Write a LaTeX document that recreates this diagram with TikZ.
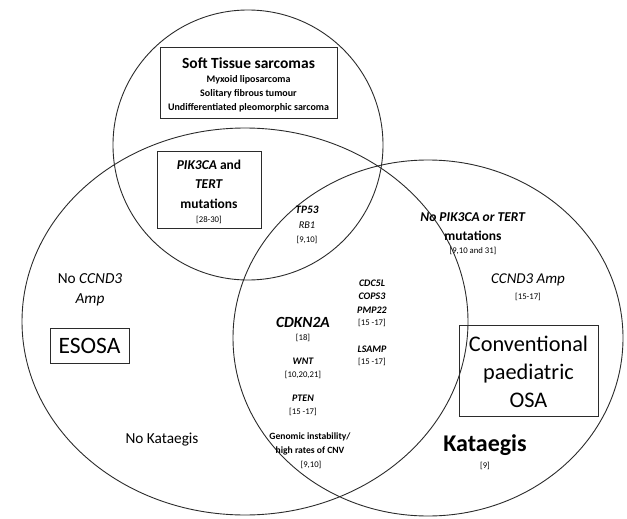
\documentclass[tikz,border=0pt]{standalone}
\usepackage{fontspec}
\setmainfont{Carlito}
\usetikzlibrary{positioning}
\definecolor{vennline}{HTML}{2B2B2B}

\begin{document}
\begin{tikzpicture}[x=1pt, y=-1pt,
    venn/.style={draw=vennline, line width=0.9pt},
    labelbox/.style={draw=vennline, line width=0.8pt, align=center, inner sep=0pt},
    ref/.style={font=\fontsize{8.7}{10}\selectfont, inner sep=0pt},
    gene/.style={font=\fontsize{10}{12}\selectfont\bfseries\itshape, inner sep=0pt},
    plain/.style={inner sep=0pt, align=center}]
    \useasboundingbox (0,0) rectangle (627,519);

    % the three sets
    \draw[venn] (248,145) circle (135pt);
    \draw[venn] (245,321.5) ellipse (223pt and 193.5pt);
    \draw[venn] (428,338) ellipse (195pt and 178pt);

    % soft tissue set
    \node[labelbox, minimum width=177pt, minimum height=71pt] (stsbox) at (248.5,82.5) {};
    \node[plain, font=\fontsize{15.5}{17}\selectfont\bfseries] (sts) at (248.5,63) {Soft Tissue sarcomas};
    \node[plain, font=\fontsize{10}{14}\selectfont\bfseries] (stslist) at (248.5,94)
        {Myxoid liposarcoma\\Solitary fibrous tumour\\Undifferentiated pleomorphic sarcoma};

    \node[labelbox, minimum width=104pt, minimum height=77pt] (pikbox) at (209,189.5) {};
    \node[plain, font=\fontsize{13.5}{19.5}\selectfont\bfseries] (pik) at (209,184)
        {\textit{PIK3CA} and\\\textit{TERT}\\mutations};
    \node[ref] (pikref) at (209,219.5) {[28-30]};

    % centre of the venn
    \node[plain, font=\fontsize{11.3}{13}\selectfont\bfseries\itshape] (tp53) at (307,210) {TP53};
    \node[plain, font=\fontsize{10.3}{12}\selectfont\itshape] (rb1) at (307,225) {RB1};
    \node[ref] (rb1ref) at (307,240) {[9,10]};

    % ESOSA and conventional overlap
    \node[gene] (cdc5l) at (372,283) {CDC5L};
    \node[gene] (cops3) at (372,296.5) {COPS3};
    \node[gene] (pmp22) at (372,310) {PMP22};
    \node[ref] (pmpref) at (372,323) {[15 -17]};
    \node[gene] (lsamp) at (372,349) {LSAMP};
    \node[ref] (lsampref) at (372,362) {[15 -17]};

    \node[plain, font=\fontsize{15.5}{18}\selectfont\bfseries\itshape] (cdkn2a) at (303,322) {CDKN2A};
    \node[ref] (cdknref) at (303,337.5) {[18]};
    \node[gene] (wnt) at (303,361) {WNT};
    \node[ref] (wntref) at (303,375) {[10,20,21]};
    \node[gene] (pten) at (303,398) {PTEN};
    \node[ref] (ptenref) at (303,412) {[15 -17]};
    \node[plain, font=\fontsize{9.6}{14}\selectfont\bfseries] (cnv) at (310,444)
        {Genomic instability/\\high rates of CNV};
    \node[ref] (cnvref) at (311,465) {[9,10]};

    % conventional paediatric OSA
    \node[plain, font=\fontsize{13.5}{19}\selectfont\bfseries] (nopik) at (473,226.5)
        {\textit{No PIK3CA or TERT}\\mutations};
    \node[ref] (nopikref) at (473,250.5) {[9,10 and 31]};
    \node[plain, font=\fontsize{15}{17}\selectfont\itshape] (ccnd3) at (528,280) {CCND3 Amp};
    \node[ref] (ccnd3ref) at (528,296.5) {[15-17]};

    \node[labelbox, minimum width=139pt, minimum height=91pt] (osabox) at (528.5,370.5) {};
    \node[plain, font=\fontsize{22.3}{28}\selectfont] (osa) at (528.5,372)
        {Conventional\\paediatric\\OSA};

    \node[plain, font=\fontsize{24}{26}\selectfont\bfseries] (kat) at (485,445) {Kataegis};
    \node[ref] (katref) at (485,466) {[9]};

    % ESOSA
    \node[plain, font=\fontsize{15.3}{20}\selectfont] (noccnd3) at (90,290)
        {No \textit{CCND3}\\\textit{Amp}};
    \node[labelbox, minimum width=79pt, minimum height=35pt,
          font=\fontsize{23.5}{25}\selectfont] (esosa) at (89.5,345.5) {ESOSA};
    \node[plain, font=\fontsize{15.3}{17}\selectfont] (nokat) at (162,440) {No Kataegis};
\end{tikzpicture}
\end{document}
